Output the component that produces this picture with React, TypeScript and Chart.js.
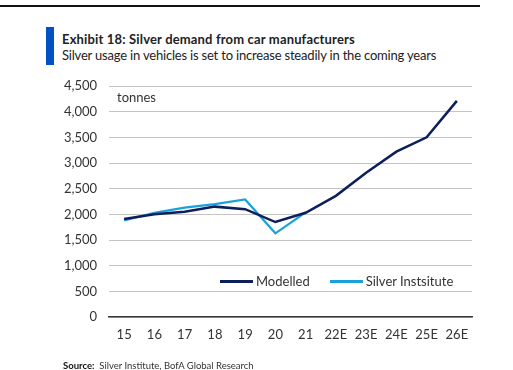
import React, { useEffect, useRef } from "react";
import { Chart, registerables } from "chart.js";

Chart.register(...registerables);

const categories = ["15", "16", "17", "18", "19", "20", "21", "22E", "23E", "24E", "25E", "26E"];
const modelled = [1910, 2000, 2050, 2150, 2100, 1850, 2030, 2360, 2810, 3220, 3500, 4210];
const silverInstitute = [1880, 2030, 2130, 2200, 2290, 1630, 2040, null, null, null, null, null];
const seriesLabels = ["Modelled", "Silver Instsitute"];
const seriesColors = ["#0c1f5c", "#1aa0dc"];
const yMax = 4500;
const yStep = 500;

const FONT = "Lato, 'Open Sans', sans-serif";

export default function App() {
  const canvasRef = useRef<HTMLCanvasElement | null>(null);

  useEffect(() => {
    const ctx = canvasRef.current!;
    const chart = new Chart(ctx, {
      type: "line",
      data: {
        labels: categories,
        datasets: [
          {
            label: seriesLabels[0],
            data: modelled,
            borderColor: seriesColors[0],
            backgroundColor: seriesColors[0],
            borderWidth: 2.5,
            pointRadius: 0,
            tension: 0,
          },
          {
            label: seriesLabels[1],
            data: silverInstitute,
            borderColor: seriesColors[1],
            backgroundColor: seriesColors[1],
            borderWidth: 2.2,
            pointRadius: 0,
            tension: 0,
            spanGaps: false,
          },
        ],
      },
      options: {
        animation: false,
        responsive: false,
        maintainAspectRatio: false,
        layout: { padding: { left: 0, right: 41, top: 86, bottom: 0 } },
        plugins: {
          legend: { display: false },
          tooltip: { enabled: false },
          title: { display: false },
        },
        scales: {
          x: {
            type: "category",
            offset: true,
            grid: { display: false, drawTicks: false },
            border: { display: true, color: "#3a3a3a", width: 1.5 },
            ticks: {
              color: "#333333",
              font: { family: FONT, size: 13 },
              padding: 10,
              maxRotation: 0,
              autoSkip: false,
            },
            afterFit: (axis: any) => {
              axis.height = 370 - 317;
            },
          },
          y: {
            min: 0,
            max: yMax,
            grid: {
              color: "#c4c4c4",
              lineWidth: 1,
              drawTicks: false,
            },
            border: { display: false },
            ticks: {
              stepSize: yStep,
              color: "#333333",
              font: { family: FONT, size: 13 },
              padding: 12,
              callback: (v: any) => Number(v).toLocaleString("en-US"),
            },
            afterFit: (axis: any) => {
              axis.width = 109;
            },
          },
        },
      },
    });
    return () => chart.destroy();
  }, []);

  return (
    <div
      style={{
        position: "fixed",
        left: 0,
        top: 0,
        width: 513,
        height: 370,
        background: "#ffffff",
        fontFamily: FONT,
        color: "#222222",
        overflow: "hidden",
      }}
    >
      <div style={{ position: "absolute", left: 0, top: 5, width: 480, height: 2, background: "#111" }} />
      <div style={{ position: "absolute", left: 46, top: 27, width: 8, height: 38, background: "#0052c4" }} />
      <div
        style={{
          position: "absolute",
          left: 62,
          top: 31,
          fontSize: 13,
          fontWeight: 700,
          whiteSpace: "nowrap",
          lineHeight: "16px",
          letterSpacing: "0.16px",
        }}
      >
        Exhibit 18: Silver demand from car manufacturers
      </div>
      <div
        style={{
          position: "absolute",
          left: 62,
          top: 47,
          fontSize: 13,
          whiteSpace: "nowrap",
          lineHeight: "16px",
          letterSpacing: "-0.19px",
        }}
      >
        Silver usage in vehicles is set to increase steadily in the coming years
      </div>
      <canvas
        ref={canvasRef}
        width={513}
        height={370}
        style={{ position: "absolute", left: 0, top: 0, width: 513, height: 370 }}
      />
      <div style={{ position: "absolute", left: 117, top: 89, fontSize: 13, lineHeight: "16px", color: "#333" }}>
        tonnes
      </div>
      <div
        style={{
          position: "absolute",
          left: 220,
          top: 273,
          display: "flex",
          alignItems: "center",
          fontSize: 13,
          lineHeight: "16px",
          color: "#333",
          whiteSpace: "nowrap",
        }}
      >
        <span style={{ display: "inline-block", width: 33, height: 3, background: seriesColors[0], marginRight: 3 }} />
        <span style={{ marginRight: 20 }}>{seriesLabels[0]}</span>
        <span style={{ display: "inline-block", width: 33, height: 3, background: seriesColors[1], marginRight: 3 }} />
        <span>{seriesLabels[1]}</span>
      </div>
      <div
        style={{
          position: "absolute",
          left: 63,
          top: 360,
          fontSize: 9.5,
          lineHeight: "12px",
          color: "#333",
          whiteSpace: "nowrap",
        }}
      >
        <b style={{ color: "#111" }}>Source:</b>&nbsp; Silver Institute, BofA Global Research
      </div>
    </div>
  );
}
